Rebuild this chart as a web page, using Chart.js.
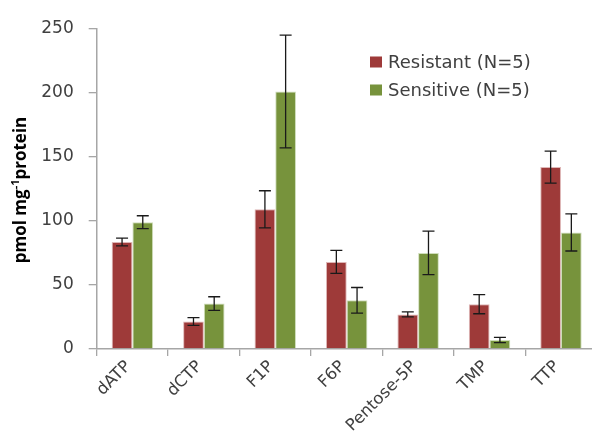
<!DOCTYPE html>
<html>
<head>
<meta charset="utf-8">
<script src="https://cdn.jsdelivr.net/npm/chart.js@4/dist/chart.umd.min.js"></script>
<style>
  html, body { margin: 0; padding: 0; background: #fff; overflow: hidden; }
  #wrap { width: 610px; height: 435px; }
</style>
</head>
<body>
<div id="wrap"><canvas id="c" width="610" height="435"></canvas></div>
<script>
// Metabolite pools by group (mean and standard error)
const metabolites = ['dATP', 'dCTP', 'F1P', 'F6P', 'Pentose-5P', 'TMP', 'TTP'];
const resistantMean = [83.5, 21.5, 109, 68, 27, 35, 142];
const resistantErr  = [3, 3, 14.5, 9, 2, 7.5, 12.5];
const sensitiveMean = [99, 35.5, 201, 38, 75, 7, 91];
const sensitiveErr  = [5, 5.3, 44, 10, 17, 2, 14.5];
const yTicks = [0, 50, 100, 150, 200, 250];

const RED = '#9E3A39';
const GREEN = '#77933C';
const AXIS = '#A6A6A6';
const TEXT = '#404040';
const FONT = '"DejaVu Sans", Verdana, sans-serif';

// Error bars drawn from each dataset's mean and error arrays
const errorBars = {
  id: 'errorBars',
  afterDatasetsDraw(chart) {
    const ctx = chart.ctx;
    const y = chart.scales.y;
    chart.data.datasets.forEach((ds, i) => {
      const meta = chart.getDatasetMeta(i);
      meta.data.forEach((bar, j) => {
        const v = ds.data[j], e = ds.errors[j];
        const yTop = y.getPixelForValue(v + e);
        const yBot = y.getPixelForValue(v - e);
        const x = bar.x;
        ctx.save();
        ctx.strokeStyle = '#1a1a1a';
        ctx.lineWidth = 1.3;
        ctx.beginPath();
        ctx.moveTo(x, yTop); ctx.lineTo(x, yBot);
        ctx.moveTo(x - 6, yTop); ctx.lineTo(x + 6, yTop);
        ctx.moveTo(x - 6, yBot); ctx.lineTo(x + 6, yBot);
        ctx.stroke();
        ctx.restore();
      });
    });
  }
};

// Legend inside the plot and y-axis title with superscript
const annotations = {
  id: 'annotations',
  afterDraw(chart) {
    const ctx = chart.ctx;
    ctx.save();
    // legend
    ctx.font = '18px ' + FONT;
    ctx.textBaseline = 'middle';
    ctx.textAlign = 'left';
    chart.data.datasets.forEach((ds, i) => {
      const cy = 62 + i * 28;
      ctx.fillStyle = ds.backgroundColor;
      ctx.fillRect(370, cy - 5.5, 12, 11);
      ctx.fillStyle = TEXT;
      ctx.fillText(ds.label, 388, cy + 1);
    });
    // y-axis title
    ctx.translate(21, 190);
    ctx.rotate(-Math.PI / 2);
    ctx.fillStyle = '#000';
    ctx.textBaseline = 'middle';
    const big = 'bold 17px "Open Sans", "Liberation Sans", sans-serif';
    const small = 'bold 11px "Open Sans", "Liberation Sans", sans-serif';
    const parts = [['pmol mg', big, 0], ['-1', small, -5], ['protein', big, 0]];
    let total = 0;
    parts.forEach(p => { ctx.font = p[1]; total += ctx.measureText(p[0]).width; });
    let x = -total / 2;
    parts.forEach(p => {
      ctx.font = p[1];
      ctx.fillText(p[0], x, p[2]);
      x += ctx.measureText(p[0]).width;
    });
    ctx.restore();
  }
};

new Chart(document.getElementById('c'), {
  type: 'bar',
  data: {
    labels: metabolites,
    datasets: [
      { label: 'Resistant (N=5)', data: resistantMean, errors: resistantErr,
        backgroundColor: RED, borderColor: 'rgba(190,110,110,0.5)', borderWidth: 1 },
      { label: 'Sensitive (N=5)', data: sensitiveMean, errors: sensitiveErr,
        backgroundColor: GREEN, borderColor: 'rgba(160,190,120,0.5)', borderWidth: 1 }
    ]
  },
  options: {
    responsive: false,
    animation: false,
    devicePixelRatio: 1,
    layout: { padding: { top: 28.7, right: 13.3, left: 0, bottom: 0 } },
    datasets: { bar: { categoryPercentage: 0.58, barPercentage: 1.0 } },
    plugins: { legend: { display: false }, tooltip: { enabled: false } },
    scales: {
      x: {
        grid: { offset: true, drawOnChartArea: false, color: AXIS, tickLength: 7, lineWidth: 1.3 },
        border: { color: AXIS, width: 1.5 },
        ticks: { color: TEXT, font: { family: FONT, size: 16.5 },
                 maxRotation: 45, minRotation: 45, padding: 1, labelOffset: -4 },
        afterFit(s) { s.height = 86; }
      },
      y: {
        min: 0, max: 250,
        afterBuildTicks(s) { s.ticks = yTicks.map(v => ({ value: v })); },
        grid: { drawOnChartArea: false, color: AXIS, tickLength: 8, lineWidth: 1.3 },
        border: { color: AXIS, width: 1.5 },
        ticks: { color: TEXT, font: { family: FONT, size: 17 }, padding: 15 },
        afterFit(s) { s.width = 96.7; }
      }
    }
  },
  plugins: [errorBars, annotations]
});
</script>
</body>
</html>
